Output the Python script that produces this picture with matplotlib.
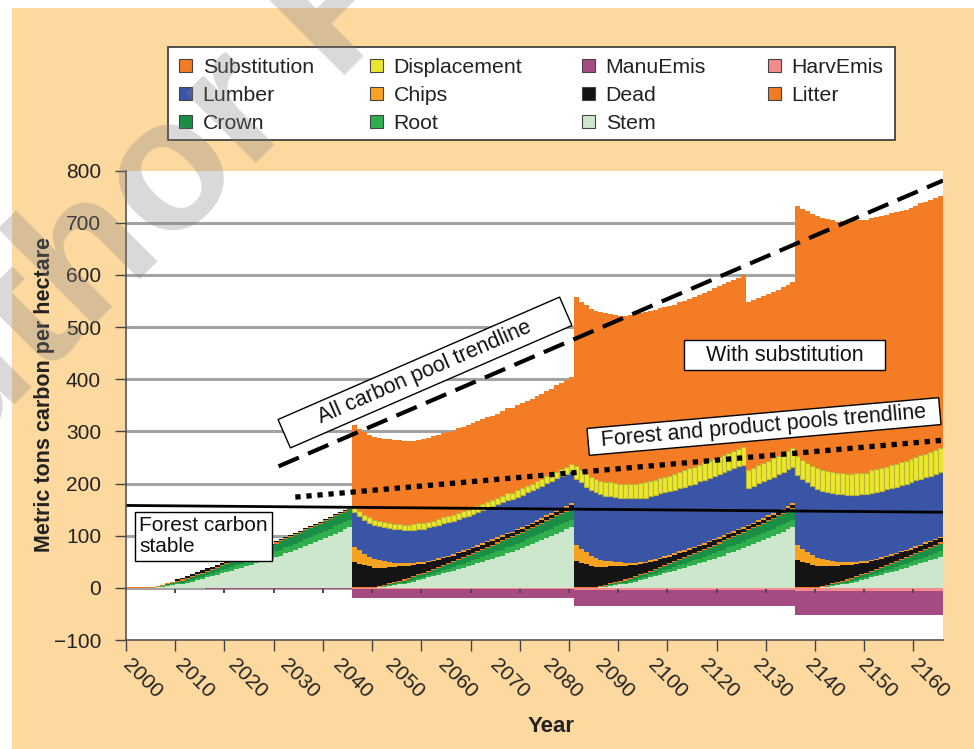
import numpy as np
import matplotlib
matplotlib.use("Agg")
import matplotlib.pyplot as plt
from matplotlib.patches import Rectangle, Patch
from matplotlib.transforms import Affine2D

plt.rcParams['font.family'] = ['Liberation Sans', 'DejaVu Sans']

# ---------------- data: one value per year (t = 0 is 2000) ----------------
stem = ([0,0,0,0,0,0,1,2,4,5, 7,8,10,12,15,17,20,22,25,28, 30,33,36,38,41,44,47,50,53,56,
         59,62,66,69,73,76,80,84,88,92, 96,100,104,108,112,117]
        + [0,0,0,0,0,1,2,4,5,7, 8,10,12,15,17,20,22,25,28,30, 33,36,38,41,44,47,50,53,56,59,
           62,66,69,73,76,80,84,88,92,96, 100,104,108,112,117]
        + [0,0,0,0,0,1,2,4,5,7, 8,10,12,15,17,20,22,25,28,30, 33,36,38,41,44,47,50,53,56,59,
           62,66,69,73,76,80,84,88,92,96, 100,104,108,112,117]
        + [0,0,0,0,0,1,2,4,5,7, 8,10,12,15,17,20,22,25,28,30, 33,36,38,41,44,47,50,53,56,59])

root = ([0,0,0,0,0,0,0,1,1,2, 2,2,3,3,4,4,5,5,5,6, 6,7,8,8,8,9,9,10,10,10,
         11,11,12,12,12,12,13,13,13,13, 13,13,14,14,14,14]
        + [0,0,0,0,0,0,1,1,2,2, 2,3,3,4,4,5,5,5,6,6, 7,8,8,8,9,9,10,10,10,11,
           11,12,12,12,12,13,13,13,13,13, 13,14,14,14,14]
        + [0,0,0,0,0,0,1,1,2,2, 2,3,3,4,4,5,5,5,6,6, 7,8,8,8,9,9,10,10,10,11,
           11,12,12,12,12,13,13,13,13,13, 13,14,14,14,14]
        + [0,0,0,0,0,0,1,1,2,2, 2,3,3,4,4,5,5,5,6,6, 7,8,8,8,9,9,10,10,10,11])

crown = ([0,0,0,0,0,0,1,1,2,2, 3,4,4,5,5,6,6,7,8,8, 9,9,10,11,12,12,13,13,14,15,
          15,16,16,16,17,17,17,17,18,18, 19,19,19,19,20,20]
         + [0,0,0,0,0,1,1,2,2,3, 4,4,5,5,6,6,7,8,8,9, 9,10,11,12,12,13,13,14,15,15,
            16,16,16,17,17,17,17,18,18,19, 19,19,19,20,20]
         + [0,0,0,0,0,1,1,2,2,3, 4,4,5,5,6,6,7,8,8,9, 9,10,11,12,12,13,13,14,15,15,
            16,16,16,17,17,17,17,18,18,19, 19,19,19,20,20]
         + [0,0,0,0,0,1,1,2,2,3, 4,4,5,5,6,6,7,8,8,9, 9,10,11,12,12,13,13,14,15,15])

litter = ([1,1,1,1,1,1,2,2,2,2, 2,2,2,2,2,2,2,2,2,2, 2,2,2,2,2,2,2,2,2,2,
           2,2,2,2,2,2,2,2,2,2, 2,2,2,2,2,2]
          + [2,2,2,2,2,2,2,2,2,2, 2,2,2,2,2,2,2,2,2,2, 2,2,2,2,2,2,2,2,2,2,
             2,2,2,2,2,2,2,2,2,2, 2,2,2,2,2]
          + [2,2,2,2,2,2,2,2,2,2, 2,2,2,2,2,2,2,2,2,2, 2,2,2,2,2,2,2,2,2,2,
             2,2,2,2,2,2,2,2,2,2, 2,2,2,2,2]
          + [2,2,2,2,2,2,2,2,2,2, 2,2,2,2,2,2,2,2,2,2, 2,2,2,2,2,2,2,2,2,2])

dead = ([0,0,0,0,0,0,0,0,0,0, 2,3,4,4,5,5,5,4,4,4, 3,3,3,2,2,2,2,2,2,2,
         2,2,2,2,2,2,2,2,2,2, 2,2,2,2,2,2]
        + [47,44,41,39,37,35,33,31,29,27, 25,23,21,19,17,16,15,14,13,12,
           11,10,10,9,9,8,8,8,7,7, 7,7,6,6,6,6,6,6,6,6, 6,6,6,6,6]
        + [49,46,43,40,38,36,34,32,30,28, 26,24,22,20,18,17,16,15,14,13,
           12,11,10,10,9,9,8,8,8,7, 7,7,7,6,6,6,6,6,6,6, 6,6,6,6,6]
        + [52,48,45,42,40,37,35,33,31,29, 27,25,23,21,19,18,17,16,15,14,
           13,12,11,10,10,9,9,8,8,8])

chips = ([0,0,0,0,0,0,0,0,0,0, 0,0,0,0,0,0,0,0,0,0, 0,0,0,0,0,0,0,0,0,0,
          0,0,0,0,0,0,0,0,0,0, 0,0,0,0,0,0]
         + [30,26,22,19,16,14,12,10,8,7, 6,5,4,4,3,3,3,3,3,3, 3,3,3,3,3,3,3,3,3,3,
            3,3,3,3,3,3,3,3,3,3, 3,3,3,3,3]
         + [31,27,23,20,17,14,12,10,8,7, 6,5,4,4,3,3,3,3,3,3, 3,3,3,3,3,3,3,3,3,3,
            3,3,3,3,3,3,3,3,3,3, 3,3,3,3,3]
         + [28,25,22,19,16,14,12,10,8,7, 6,5,4,4,3,3,3,3,3,3, 3,3,3,3,3,3,3,3,3,3])

lumber = ([0,0,0,0,0,0,0,0,0,0, 0,0,0,0,0,0,0,0,0,0, 0,0,0,0,0,0,0,0,0,0,
           0,0,0,0,0,0,0,0,0,0, 0,0,0,0,0,0]
          + [66,66,66,65,65,65,65,65,65,65, 64,64,64,64,64,64,64,64,64,64,
             63,63,63,63,63,63,63,63,63,63, 63,63,62,62,62,62,62,62,62,62, 62,62,62,62,62]
          + [127,127,126,126,126,125,125,125,125,124, 124,124,124,123,123,123,123,123,122,122,
             122,122,122,122,121,121,121,121,121,121, 121,120,120,120,120,71,71,71,70,70,
             70,70,70,70,70]
          + [134,133,133,132,132,131,131,130,130,130, 129,129,129,128,128,128,128,127,127,127,
             127,126,126,126,126,126,125,125,125,125])

displacement = ([0,0,0,0,0,0,0,0,0,0, 0,0,0,0,0,0,0,0,0,0, 0,0,0,0,0,0,0,0,0,0,
                 0,0,0,0,0,0,0,0,0,0, 0,0,0,0,0,0]
                + [9,9,9,10,10,10,10,10,10,10, 10,10,11,11,11,11,11,11,11,11,
                   11,12,12,12,12,12,12,12,12,12, 12,12,12,13,13,13,13,13,13,13, 13,13,13,13,13]
                + [24,24,25,25,25,26,26,26,27,27, 27,28,28,28,29,29,29,30,30,30,
                   30,31,31,31,31,32,32,32,32,33, 33,33,33,34,34,34,34,34,35,35, 35,35,35,35,36]
                + [37,37,38,38,39,39,40,40,40,41, 41,41,42,42,42,43,43,43,43,44,
                   44,44,44,45,45,45,45,46,46,46])

substitution = ([0,0,0,0,0,0,0,0,0,0, 0,0,0,0,0,0,0,0,0,0, 0,0,0,0,0,0,0,0,0,0,
                 0,0,0,0,0,0,0,0,0,0, 0,0,0,0,0,0]
                + [158,158,158,159,159,159,160,160,161,161, 161,160,160,160,161,161,162,162,162,162,
                   162,162,162,162,162,162,162,162,162,162, 163,163,163,163,163,163,163,163,163,164,
                   164,165,166,167,168]
                + [324,323,323,322,322,323,324,324,323,321, 322,323,325,326,327,326,326,326,325,325,
                   325,325,325,325,326,326,326,326,327,327, 327,328,328,328,329,322,322,321,321,320,
                   320,319,319,318,318]
                + [480,481,482,483,484,485,484,483,482,482, 483,484,485,485,485,485,484,484,483,483,
                   482,482,482,482,482,483,483,483,483,483])

harv_emis = ([0,0,0,0,0,0,0,0,0,0, 0,0,0,0,0,0,0,0,0,0, 0,0,0,0,0,0,0,0,0,0,
              0,0,0,0,0,0,0,0,0,0, 0,0,0,0,0,0]
             + [-3,-3,-3,-3,-3,-3,-3,-3,-3,-3, -3,-3,-3,-3,-3,-3,-3,-3,-3,-3,
                -3,-3,-3,-3,-3,-3,-3,-3,-3,-3, -3,-3,-3,-3,-3,-3,-3,-3,-3,-3, -3,-3,-3,-3,-3]
             + [-5,-5,-5,-5,-5,-5,-5,-5,-5,-5, -5,-5,-5,-5,-5,-5,-5,-5,-5,-5,
                -5,-5,-5,-5,-5,-5,-5,-5,-5,-5, -5,-5,-5,-5,-5,-5,-5,-5,-5,-5, -5,-5,-5,-5,-5]
             + [-7,-7,-7,-7,-7,-7,-7,-7,-7,-7, -7,-7,-7,-7,-7,-7,-7,-7,-7,-7,
                -7,-7,-7,-7,-7,-7,-7,-7,-7,-7])

manu_emis = ([0,0,0,0,0,0,0,0,0,0, 0,0,0,0,0,0,-2,-2,-2,-2, -2,-2,-2,-2,-2,-2,-2,-2,-2,-2,
              -2,-2,-2,-2,-2,-2,-2,-2,-2,-2, -2,-2,-2,-2,-2,-2]
             + [-17,-17,-17,-17,-17,-17,-17,-17,-17,-17, -17,-17,-17,-17,-17,-17,-17,-17,-17,-17,
                -17,-17,-17,-17,-17,-17,-17,-17,-17,-17, -17,-17,-17,-17,-17,-17,-17,-17,-17,-17,
                -17,-17,-17,-17,-17]
             + [-30,-30,-30,-30,-30,-30,-30,-30,-30,-30, -30,-30,-30,-30,-30,-30,-30,-30,-30,-30,
                -30,-30,-30,-30,-30,-30,-30,-30,-30,-30, -30,-30,-30,-30,-30,-30,-30,-30,-30,-30,
                -30,-30,-30,-30,-30]
             + [-46,-46,-46,-46,-46,-46,-46,-46,-46,-46, -46,-46,-46,-46,-46,-46,-46,-46,-46,-46,
                -46,-46,-46,-46,-46,-46,-46,-46,-46,-46])

# trendlines (year index, value)
trend_all_x = [31, 166]
trend_all_y = [233, 781]
trend_fp_x = [34.4, 166]
trend_fp_y = [174, 283]
stable_x = [0, 166]
stable_y = [158, 145]

tick_years = ['2000', '2010', '2020', '2030', '2040', '2050', '2060', '2070', '2080',
              '2090', '2100', '2120', '2130', '2140', '2150', '2160']

# ---------------- colours ----------------
C = {
    'Substitution': '#F37C25', 'Displacement': '#EAE72D', 'ManuEmis': '#A64B82',
    'HarvEmis': '#F28C8E', 'Lumber': '#3A55A5', 'Chips': '#F7A321', 'Dead': '#141414',
    'Litter': '#F37B22', 'Crown': '#1B8E46', 'Root': '#2FAE4D', 'Stem': '#CDE7CD',
}

W, H = 974, 749
N = len(stem)
fig = plt.figure(figsize=(W / 100, H / 100), dpi=100, facecolor='white')
fig.patches.append(Rectangle((12 / W, 0), 1 - 12 / W, 1 - 8 / H, transform=fig.transFigure,
                             facecolor='#FDD9A0', edgecolor='none', zorder=-10))

ax = fig.add_axes([126 / W, 1 - 640 / H, 817 / W, 469.4 / H])
ax.set_xlim(0, 166)
ax.set_ylim(-100, 800)
ax.set_facecolor('white')

for gy in [0, 100, 200, 300, 400, 500, 600, 700]:
    ax.axhline(gy, color='#A3A3A3', lw=2.2, zorder=1)

xe = np.arange(N + 1)
idx = np.arange(N)


def ext(a):
    return np.append(a, a[-1])


layers = [('Stem', stem), ('Root', root), ('Crown', crown), ('Litter', litter), ('Dead', dead),
          ('Chips', chips), ('Lumber', lumber), ('Displacement', displacement),
          ('Substitution', substitution)]
base = np.zeros(N)
for name, vals in layers:
    v = np.array(vals, dtype=float)
    top = base + v
    if name == 'Displacement':
        m = v > 0
        ax.bar(idx[m], v[m], bottom=base[m], width=1, align='edge', color=C[name],
               edgecolor='#B9B43A', linewidth=0.8, zorder=2)
    else:
        ax.fill_between(xe, ext(base), ext(top), step='post', facecolor=C[name],
                        linewidth=0, antialiased=False, zorder=2)
    base = top

nb = np.zeros(N)
for name, vals in [('HarvEmis', harv_emis), ('ManuEmis', manu_emis)]:
    v = np.array(vals, dtype=float)
    bot = nb + v
    ax.fill_between(xe, ext(nb), ext(bot), step='post', facecolor=C[name],
                    linewidth=0, antialiased=False, zorder=2)
    nb = bot

# small tick marks on the zero line
ax.vlines(np.arange(10, 161, 10), -9, -2, color='#4A4A4A', lw=1.4, zorder=4)

# trendlines
ax.plot(trend_all_x, trend_all_y, color='black', lw=3, dashes=(5.3, 2.4), zorder=5)
ax.plot(trend_fp_x, trend_fp_y, color='black', lw=3.8, dashes=(1.0, 1.1),
        solid_capstyle='butt', dash_capstyle='butt', zorder=5)
ax.plot(stable_x, stable_y, color='black', lw=2, zorder=5)


# rotated annotation boxes (figure pixel positions, origin top-left)
def rot_label(text, cx, cy, w, h, ang, fs):
    cxi, cyi = cx / 100, (H - cy) / 100
    tr = Affine2D().rotate_deg_around(cxi, cyi, ang) + fig.dpi_scale_trans
    fig.patches.append(Rectangle((cxi - w / 200, cyi - h / 200), w / 100, h / 100,
                                 transform=tr, facecolor='white', edgecolor='black',
                                 lw=1, zorder=2))
    fig.text(cx / W, 1 - cy / H, text, rotation=ang, rotation_mode='anchor', ha='center',
             va='center', fontsize=fs, color='#111', zorder=4)


rot_label('All carbon pool trendline', 425, 372.5, 307, 31, 23.5, 15.5)
rot_label('Forest and product pools trendline', 764, 426.5, 353, 27, 5, 15.5)

ax.add_patch(Rectangle((113.3, 417), 41, 57.5, fc='white', ec='black', lw=1, zorder=6))
ax.text(133.8, 446, 'With substitution', ha='center', va='center', fontsize=15.5,
        color='#111', zorder=7)
ax.text(2.7, 99, 'Forest carbon\nstable', ha='left', va='center', fontsize=15,
        linespacing=1.15, color='#111', zorder=7,
        bbox=dict(boxstyle='square,pad=0.22', fc='white', ec='black', lw=1))

# axes styling
for s in ['top', 'right']:
    ax.spines[s].set_visible(False)
for s in ['left', 'bottom']:
    ax.spines[s].set_color('#555555')
    ax.spines[s].set_linewidth(1.2)
    ax.spines[s].set_zorder(6)

ax.set_yticks(range(-100, 801, 100))
ax.tick_params(axis='y', length=8, width=1, color='#444', pad=10, labelsize=15,
               labelcolor='#222')

label_pos = [i * 160 / 15 + 1.3 for i in range(len(tick_years))]
ax.set_xticks(label_pos)
ax.set_xticklabels(tick_years)
ax.set_xticks(range(0, 161, 10), minor=True)
ax.tick_params(axis='x', which='major', length=0, pad=11, labelsize=15, labelcolor='#222')
ax.tick_params(axis='x', which='minor', length=8, width=1, color='#444')
for lab in ax.get_xticklabels():
    lab.set_rotation(-45)
    lab.set_ha('left')
    lab.set_va('top')
    lab.set_rotation_mode('anchor')

fig.text(45 / W, 1 - 395 / H, 'Metric tons carbon per hectare', rotation=90,
         ha='center', va='center', fontsize=15.5, fontweight='bold', color='#222')
fig.text(551 / W, 1 - 727 / H, 'Year', ha='center', va='center', fontsize=16,
         fontweight='bold', color='#222')

# legend (box + four columns)
fig.patches.append(Rectangle((168 / W, 1 - 140 / H), 727 / W, 93 / H,
                             transform=fig.transFigure, facecolor='white',
                             edgecolor='#333333', lw=1.2, zorder=1))
columns = [['Substitution', 'Lumber', 'Crown'], ['Displacement', 'Chips', 'Root'],
           ['ManuEmis', 'Dead', 'Stem'], ['HarvEmis', 'Litter']]
col_x = [179, 370, 582, 768]
for names, cx in zip(columns, col_x):
    handles = [Patch(facecolor=C[n], edgecolor='#444444', linewidth=0.8) for n in names]
    leg = fig.legend(handles, names, loc='upper left',
                     bbox_to_anchor=(cx / W, 1 - 58 / H), frameon=False,
                     borderpad=0, borderaxespad=0, handlelength=0.61, handleheight=0.61,
                     handletextpad=0.5, labelspacing=0.42, fontsize=15.3)
    for t in leg.get_texts():
        t.set_color('#222')
    leg.set_zorder(3)

# faint "Author Proof" watermark printed over the figure
fig.text(-135.4 / W, 1 - 554.2 / H, 'Author Proof', rotation=45, rotation_mode='anchor',
         ha='left', va='baseline', fontsize=135, fontweight='bold', color='#808080',
         alpha=0.3, zorder=20)

fig.savefig('out.png', dpi=100, facecolor=fig.get_facecolor())
